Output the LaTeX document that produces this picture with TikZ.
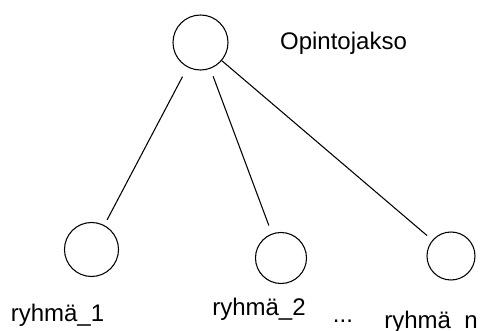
\documentclass[tikz,border=0pt]{standalone}
\usepackage{fontspec}
\setmainfont{Liberation Sans}

\begin{document}
\begin{tikzpicture}
  [x=0.75pt,y=-0.75pt,line width=0.8pt,
   pallo/.style={circle,draw,inner sep=0pt},
   teksti/.style={anchor=base,inner sep=0pt,font=\fontsize{18}{20}\selectfont}]
  \useasboundingbox (0,0) rectangle (483,331);
  \node[pallo,minimum size=41.25pt] (o) at (200.5,42.5) {};
  \node[pallo,minimum size=40.5pt] (r1) at (91.5,249.5) {};
  \node[pallo,minimum size=38.25pt] (r2) at (281,258) {};
  \node[pallo,minimum size=36pt] (rn) at (451,256) {};

  \node[teksti] (otsikko) at (343.5,50) {Opintojakso};
  \node[teksti] (l1) at (57.5,322) {ryhmä\_1};
  \node[teksti] (l2) at (259,316) {ryhmä\_2};
  \node[teksti] (pisteet) at (343,323) {...};
  \node[teksti] (ln) at (431,328.5) {ryhmä\_n};

  \foreach \to/\a/\b in {r1/10.6/6,r2/8/8.6,rn/0/7}
    \draw[shorten <={\a*0.75pt},shorten >={\b*0.75pt}] (o) -- (\to);

\end{tikzpicture}
\end{document}
